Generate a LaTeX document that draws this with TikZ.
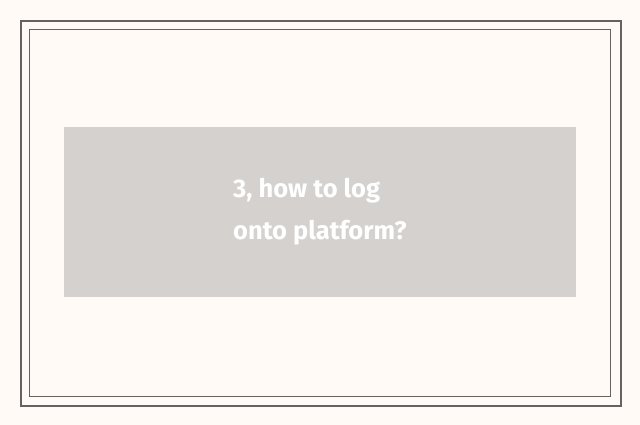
\documentclass[tikz,border=0pt]{standalone}
\usepackage{fontspec}
\setmainfont{Fira Sans}
\definecolor{paper}{HTML}{FFFAF6}
\definecolor{frame}{HTML}{666262}
\definecolor{panel}{HTML}{D5D1CE}
\tikzset{caption/.style={white,anchor=base west,inner sep=0,
    font=\fontseries{sb}\fontsize{25.5}{30}\selectfont}}
\begin{document}
\begin{tikzpicture}[x=1pt,y=-1pt]
      \fill[paper] (0,0) rectangle (640,425);
      \useasboundingbox (0,0) rectangle (640,425);
      \draw[frame,line width=2] (21,21) rectangle (621,406);
      \draw[frame,line width=1] (29.5,29.5) rectangle (610.5,396.5);

      \fill[panel] (64,127) rectangle (576,297);
      \node[caption] (line1) at (233,197.5) {3, how to log};
      \node[caption] (line2) at (233,239) {onto platform?};
    \end{tikzpicture}
\end{document}
